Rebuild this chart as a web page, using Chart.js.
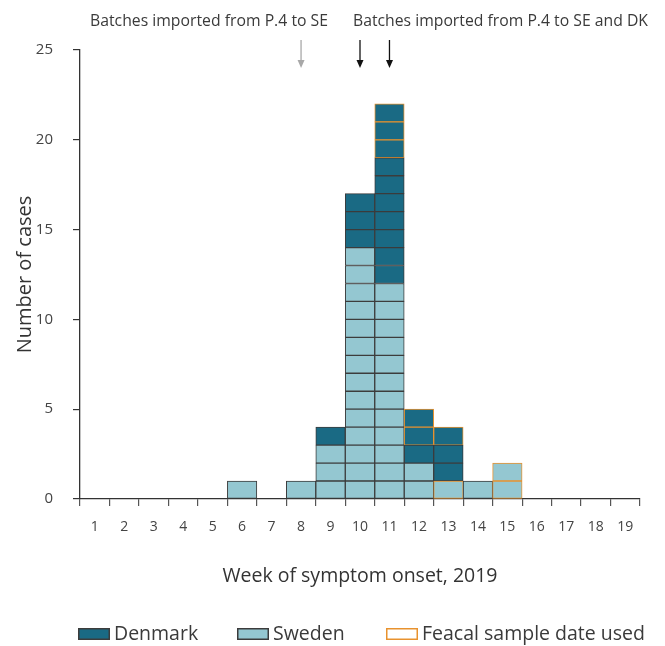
<!DOCTYPE html>
<html>
<head>
<meta charset="utf-8">
<script src="https://cdn.jsdelivr.net/npm/chart.js@4"></script>
<style>
  html, body { margin: 0; padding: 0; background: #fff; }
  #wrap { width: 665px; height: 646px; }
</style>
</head>
<body>
<div id="wrap"><canvas id="epiCurve" width="665" height="646"></canvas></div>
<script>
// week of symptom onset, 2019
const weeks = ['1', '2', '3', '4', '5', '6', '7', '8', '9', '10', '11', '12', '13', '14', '15', '16', '17', '18', '19'];
const sweden = [0, 0, 0, 0, 0, 1, 0, 1, 3, 14, 12, 2, 1, 1, 2, 0, 0, 0, 0];
const denmark = [0, 0, 0, 0, 0, 0, 0, 0, 1, 3, 10, 3, 3, 0, 0, 0, 0, 0, 0];
// cases where the feacal sample date was used instead of onset
const swedenFeacal = [0, 0, 0, 0, 0, 0, 0, 0, 0, 0, 0, 0, 1, 0, 2, 0, 0, 0, 0];
const denmarkFeacal = [0, 0, 0, 0, 0, 0, 0, 0, 0, 0, 3, 2, 1, 0, 0, 0, 0, 0, 0];
const yTicks = [0, 5, 10, 15, 20, 25];
const grayArrowWeeks = ['8'];
const blackArrowWeeks = ['10', '11'];
const annotationTexts = ['Batches imported from P.4 to SE', 'Batches imported from P.4 to SE and DK'];
const legendLabels = ['Denmark', 'Sweden', 'Feacal sample date used'];

const FONT = "'Open Sans', 'DejaVu Sans', sans-serif";
const DK_FILL = '#1a6a84';
const SE_FILL = '#94c7d1';
const CELL_EDGE = '#3c3c3c';
const FEACAL_EDGE = '#e8922e';

// one box per case, stacked from the bottom: Sweden, then Denmark; feacal ones on top of each
const stacks = weeks.map((w, i) => {
    const cells = [];
    for (let k = 0; k < sweden[i] - swedenFeacal[i]; k++) cells.push({ fill: SE_FILL, edge: CELL_EDGE });
    for (let k = 0; k < swedenFeacal[i]; k++) cells.push({ fill: SE_FILL, edge: FEACAL_EDGE });
    for (let k = 0; k < denmark[i] - denmarkFeacal[i]; k++) cells.push({ fill: DK_FILL, edge: CELL_EDGE });
    for (let k = 0; k < denmarkFeacal[i]; k++) cells.push({ fill: DK_FILL, edge: FEACAL_EDGE });
    return cells;
});
const maxCases = Math.max(...stacks.map(s => s.length));

const datasets = [];
for (let level = 0; level < maxCases; level++) {
    datasets.push({
        label: 'case ' + (level + 1),
        data: stacks.map(s => (level < s.length ? 1 : null)),
        backgroundColor: stacks.map(s => (s[level] ? s[level].fill : 'transparent')),
        borderColor: stacks.map(s => (s[level] ? s[level].edge : 'transparent')),
        borderWidth: 1,
        borderSkipped: false,
        barPercentage: 1,
        categoryPercentage: 1
    });
}

const annotationPlugin = {
    id: 'batchArrows',
    afterDraw(chart) {
        const ctx = chart.ctx;
        const x = chart.scales.x;
        ctx.save();
        ctx.font = '17px ' + FONT;
        ctx.fillStyle = '#3a3a3a';
        ctx.textBaseline = 'middle';
        ctx.textAlign = 'left';
        // the original uses a narrower face, squeeze to about the same widths
        ctx.fillText(annotationTexts[0], 90, 21, 238);
        ctx.fillText(annotationTexts[1], 353, 21, 295);

        const arrow = (week, color) => {
            const px = x.getPixelForValue(weeks.indexOf(week));
            ctx.strokeStyle = color;
            ctx.fillStyle = color;
            ctx.lineWidth = 1.3;
            ctx.beginPath();
            ctx.moveTo(px, 40);
            ctx.lineTo(px, 62);
            ctx.stroke();
            ctx.beginPath();
            ctx.moveTo(px - 3.5, 60);
            ctx.lineTo(px + 3.5, 60);
            ctx.lineTo(px, 68);
            ctx.closePath();
            ctx.fill();
        };
        grayArrowWeeks.forEach(w => arrow(w, '#a8a8a8'));
        blackArrowWeeks.forEach(w => arrow(w, '#111'));
        ctx.restore();
    }
};

const legendPlugin = {
    id: 'boxLegend',
    afterDraw(chart) {
        const ctx = chart.ctx;
        const items = [
            { text: legendLabels[0], fill: DK_FILL, edge: CELL_EDGE, x: 78 },
            { text: legendLabels[1], fill: SE_FILL, edge: CELL_EDGE, x: 237 },
            { text: legendLabels[2], fill: '#fff', edge: FEACAL_EDGE, x: 386 }
        ];
        const cy = 634;
        ctx.save();
        ctx.font = '19.5px ' + FONT;
        ctx.textBaseline = 'middle';
        ctx.textAlign = 'left';
        items.forEach(it => {
            ctx.fillStyle = it.fill;
            ctx.fillRect(it.x, cy - 6, 32, 12);
            ctx.strokeStyle = it.edge;
            ctx.lineWidth = 1.5;
            ctx.strokeRect(it.x + 0.75, cy - 5.25, 30.5, 10.5);
            ctx.fillStyle = '#3a3a3a';
            ctx.fillText(it.text, it.x + 36, cy);
        });
        ctx.restore();
    }
};

new Chart(document.getElementById('epiCurve').getContext('2d'), {
    type: 'bar',
    data: { labels: weeks, datasets: datasets },
    options: {
        responsive: false,
        animation: false,
        layout: { padding: { top: 50, right: 25, bottom: 40, left: 0 } },
        plugins: {
            legend: { display: false },
            tooltip: { enabled: false }
        },
        scales: {
            x: {
                stacked: true,
                offset: true,
                grid: { display: true, offset: true, drawOnChartArea: false, drawTicks: true, tickLength: 7, color: '#555', lineWidth: 1.2 },
                border: { display: true, color: '#333', width: 1.3 },
                ticks: { color: '#444', padding: 13, font: { family: FONT, size: 14 }, maxRotation: 0, autoSkip: false },
                title: { display: true, text: 'Week of symptom onset, 2019', color: '#333', font: { family: FONT, size: 19.5 }, padding: { top: 4, bottom: 18 } },
                afterFit(scale) { scale.height = 107; }
            },
            y: {
                stacked: true,
                min: 0,
                max: 25,
                afterBuildTicks(scale) { scale.ticks = yTicks.map(v => ({ value: v })); },
                grid: { display: true, drawOnChartArea: false, drawTicks: true, tickLength: 7, color: '#333', lineWidth: 1.2 },
                border: { display: true, color: '#333', width: 1.3 },
                ticks: { color: '#444', padding: 20, font: { family: FONT, size: 15 } },
                title: { display: true, text: 'Number of cases', color: '#333', font: { family: FONT, size: 20 }, padding: { top: 13, bottom: 0 } },
                afterFit(scale) { scale.width = 80; }
            }
        }
    },
    plugins: [annotationPlugin, legendPlugin]
});
</script>
</body>
</html>
